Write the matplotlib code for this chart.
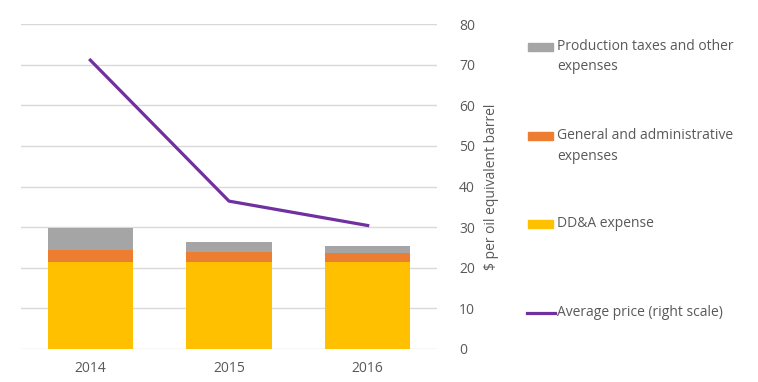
import numpy as np
import matplotlib.pyplot as plt
from matplotlib.patches import Rectangle
from matplotlib.lines import Line2D

plt.rcParams['font.family'] = ['Open Sans', 'DejaVu Sans']

years = ['2014', '2015', '2016']
dda = [21.4, 21.4, 21.4]
general_admin = [3.0, 2.5, 2.2]
production_taxes = [5.4, 2.45, 1.8]
avg_price = [71.1, 36.4, 30.4]

c_gray = '#A5A5A5'
c_orange = '#ED7D31'
c_yellow = '#FFC000'
c_purple = '#7030A0'
c_text = '#595959'
c_grid = '#D9D9D9'

fig = plt.figure(figsize=(7.58, 3.82), dpi=100)
ax = fig.add_axes([21 / 758, 1 - 349 / 382, 416 / 758, 325 / 382])

x = np.arange(len(years))
w = 0.613
b1 = np.array(dda)
b2 = b1 + np.array(general_admin)
ax.bar(x, dda, w, color=c_yellow, zorder=2)
ax.bar(x, general_admin, w, bottom=b1, color=c_orange, zorder=2)
ax.bar(x, production_taxes, w, bottom=b2, color=c_gray, zorder=2)

ax2 = ax.twinx()
ax2.plot(x, avg_price, color=c_purple, lw=2.3, zorder=3)

for a in (ax, ax2):
    a.set_ylim(0, 80)
    a.set_xlim(-0.5, 2.5)
    for s in a.spines.values():
        s.set_visible(False)

ax.set_yticks(np.arange(0, 81, 10))
ax.yaxis.grid(True, color=c_grid, lw=1, zorder=0)
ax.tick_params(axis='y', left=False, labelleft=False)
ax.set_xticks(x)
ax.set_xticklabels(years)
ax.tick_params(axis='x', length=0, pad=9, labelsize=10, labelcolor=c_text)

ax2.set_yticks(np.arange(0, 81, 10))
ax2.tick_params(axis='y', length=0, pad=16, labelsize=10, labelcolor=c_text)
ax2.set_ylabel('$ per oil equivalent barrel', fontsize=10, color=c_text, labelpad=6)

# legend
W, H = 758, 382
items = [
    ('patch', c_gray, ['Production taxes and other', 'expenses'], 47),
    ('patch', c_orange, ['General and administrative', 'expenses'], 136),
    ('patch', c_yellow, ['DD&A expense'], 224),
    ('line', c_purple, ['Average price (right scale)'], 313),
]
for kind, col, lines, ypx in items:
    if kind == 'patch':
        fig.add_artist(Rectangle((528 / W, 1 - (ypx + 4) / H), 25 / W, 8 / H,
                                 transform=fig.transFigure, color=col))
    else:
        fig.add_artist(Line2D([527 / W, 555 / W], [1 - ypx / H, 1 - ypx / H],
                              transform=fig.transFigure, color=col, lw=2.3))
    for i, t in enumerate(lines):
        fig.text(557 / W, 1 - (ypx + i * 20) / H, t, fontsize=10, color=c_text,
                 va='center', ha='left')

fig.savefig('out.png', dpi=100)
